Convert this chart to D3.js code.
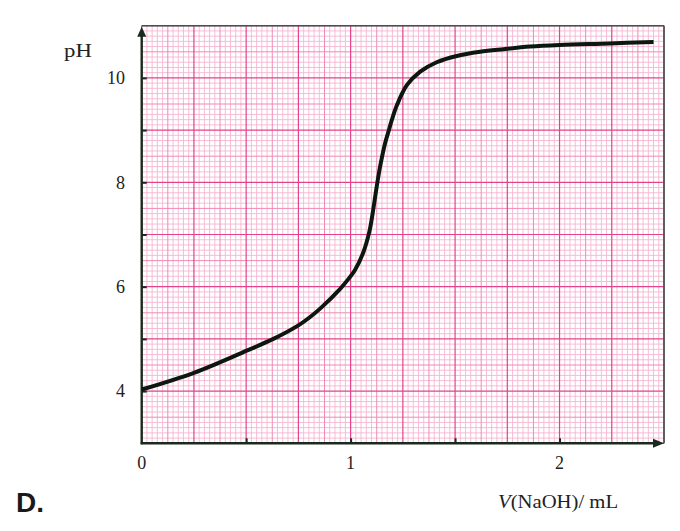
<!DOCTYPE html>
<html>
<head>
<meta charset="utf-8">
<script src="https://cdn.jsdelivr.net/npm/d3@7"></script>
<style>
  html, body { margin: 0; padding: 0; background: #ffffff; }
  svg { display: block; }
</style>
</head>
<body>
<svg id="chart" width="680" height="531"></svg>
<script>
// ---- data ----
const volumeML = [0, 0.25, 0.5, 0.63, 0.75, 0.8, 0.854, 0.95, 0.99, 1.021, 1.061, 1.09, 1.106, 1.125, 1.141, 1.165, 1.181, 1.197, 1.221, 1.269, 1.333, 1.412, 1.508, 1.62, 1.731, 1.859, 2.0, 2.24, 2.45];
const pHValues = [4.03, 4.35, 4.77, 5.0, 5.26, 5.40, 5.58, 5.96, 6.15, 6.32, 6.66, 7.06, 7.42, 7.92, 8.30, 8.75, 8.97, 9.19, 9.47, 9.86, 10.12, 10.30, 10.42, 10.50, 10.55, 10.60, 10.63, 10.66, 10.69];
const xTickValues = [0, 1, 2];
const xTickMarks = [0.5, 1, 1.5, 2];
const yTickValues = [4, 6, 8, 10];
const yTickMarks = [4, 5, 6, 7, 8, 9, 10];
const xLabel = "(NaOH)/ mL";
const yLabel = "pH";
const optionLabel = "D.";

// ---- layout ----
const svg = d3.select("#chart");
const x = d3.scaleLinear().domain([0, 2.5]).range([141.7, 664]);
const y = d3.scaleLinear().domain([3, 11]).range([443.3, 25.7]);

const axisColor = "#1b2a1f";
const textColor = "#222222";
const serif = "'Liberation Serif', 'Times New Roman', serif";

// ---- graph paper grid ----
const grid = svg.append("g");
const minorX = d3.range(0, 2.5001, 0.025);
const minorY = d3.range(3, 11.0001, 0.1);
function level(i) { return i % 10 === 0 ? 2 : (i % 5 === 0 ? 1 : 0); }
const styles = [
  { c: "#f6b6d1", w: 0.9 },
  { c: "#ef8ab6", w: 1 },
  { c: "#e4428b", w: 1.2 }
];
[0, 1, 2].forEach(lv => {
  minorX.forEach((v, i) => {
    if (level(i) !== lv) return;
    grid.append("line")
      .attr("x1", x(v)).attr("x2", x(v))
      .attr("y1", y(3)).attr("y2", y(11))
      .attr("stroke", styles[lv].c).attr("stroke-width", styles[lv].w);
  });
  minorY.forEach((v, i) => {
    if (level(i) !== lv) return;
    grid.append("line")
      .attr("x1", x(0)).attr("x2", x(2.5))
      .attr("y1", y(v)).attr("y2", y(v))
      .attr("stroke", styles[lv].c).attr("stroke-width", styles[lv].w);
  });
});

// ---- frame (top & right) ----
svg.append("line").attr("x1", x(0)).attr("x2", x(2.5)).attr("y1", y(11)).attr("y2", y(11))
  .attr("stroke", "#3d5446").attr("stroke-width", 1.6);
svg.append("line").attr("x1", x(2.5)).attr("x2", x(2.5)).attr("y1", y(11)).attr("y2", y(3))
  .attr("stroke", "#3d5446").attr("stroke-width", 1.6);

// ---- axes ----
const yAxis = d3.axisRight(y).tickValues(yTickMarks).tickSize(5).tickFormat("");
const gy = svg.append("g").attr("transform", `translate(${x(0)},0)`).call(yAxis);
gy.select(".domain").remove();
gy.selectAll(".tick line").attr("stroke", axisColor).attr("stroke-width", 2);

const xAxis = d3.axisTop(x).tickValues(xTickMarks).tickSize(5).tickFormat("");
const gx = svg.append("g").attr("transform", `translate(0,${y(3)})`).call(xAxis);
gx.select(".domain").remove();
gx.selectAll(".tick line").attr("stroke", axisColor).attr("stroke-width", 2);

// axis lines
svg.append("line").attr("x1", x(0)).attr("x2", x(0)).attr("y1", y(3) + 1).attr("y2", y(11) + 8)
  .attr("stroke", axisColor).attr("stroke-width", 2.4);
svg.append("line").attr("x1", x(0) - 1).attr("x2", x(2.5) - 8).attr("y1", y(3)).attr("y2", y(3))
  .attr("stroke", axisColor).attr("stroke-width", 2.4);
// arrow heads
svg.append("path")
  .attr("d", `M${x(0)},${y(11) + 1} L${x(0) - 4.5},${y(11) + 11} L${x(0) + 4.5},${y(11) + 11} Z`)
  .attr("fill", axisColor);
svg.append("path")
  .attr("d", `M${x(2.5)},${y(3)} L${x(2.5) - 11},${y(3) - 4.5} L${x(2.5) - 11},${y(3) + 4.5} Z`)
  .attr("fill", axisColor);

// tick labels
svg.append("g").selectAll("text").data(yTickValues).join("text")
  .attr("x", 125).attr("y", d => y(d)).attr("dy", "0.35em")
  .attr("text-anchor", "end")
  .attr("font-family", serif).attr("font-size", 18).attr("fill", textColor)
  .text(d => d);
svg.append("g").selectAll("text").data(xTickValues).join("text")
  .attr("x", d => x(d)).attr("y", 469)
  .attr("text-anchor", "middle")
  .attr("font-family", serif).attr("font-size", 18).attr("fill", textColor)
  .text(d => d);

// axis titles
svg.append("text").attr("transform", "translate(64,57) scale(1.2,1)")
  .attr("font-family", serif).attr("font-size", 19).attr("fill", textColor)
  .text(yLabel);
const xt = svg.append("text").attr("transform", "translate(498,508) scale(1.15,1)")
  .attr("font-family", serif).attr("font-size", 18).attr("fill", textColor);
xt.append("tspan").attr("font-style", "italic").text("V");
xt.append("tspan").text(xLabel);

// option label
svg.append("text").attr("x", 16).attr("y", 512)
  .attr("font-family", "'Liberation Sans', Arial, sans-serif").attr("font-weight", "bold")
  .attr("font-size", 28).attr("fill", "#1a1a1a")
  .text(optionLabel);

// ---- curve ----
const pts = volumeML.map((v, i) => [v, pHValues[i]]);
const line = d3.line().x(d => x(d[0])).y(d => y(d[1])).curve(d3.curveCatmullRom.alpha(0.5));
svg.append("path").datum(pts).attr("d", line)
  .attr("fill", "none").attr("stroke", "#0c170f").attr("stroke-width", 4)
  .attr("stroke-linecap", "butt").attr("stroke-linejoin", "round");
</script>
</body>
</html>
